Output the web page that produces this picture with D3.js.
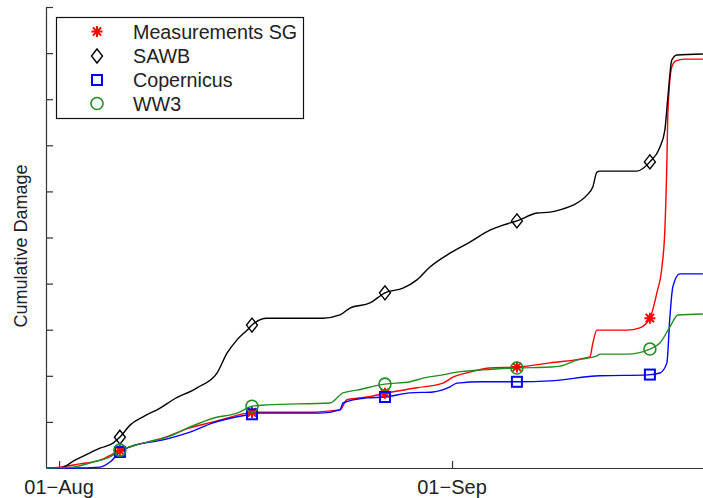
<!DOCTYPE html>
<html>
<head>
<meta charset="utf-8">
<script src="https://cdn.jsdelivr.net/npm/d3@7"></script>
<style>
  html, body { margin: 0; padding: 0; background: #fff; }
  svg { display: block; font-family: "Liberation Sans", Arial, sans-serif; }
</style>
</head>
<body>
<svg id="chart" width="703" height="498"></svg>
<script>
// Days since 01-Aug and cumulative damage (one unit per y tick).
const measDays = [-1.03, 0.08, 1.66, 3.23, 4.57, 5.60, 8.20, 10.33, 12.15, 14.83, 15.30, 20.19, 21.37, 22.16, 22.71, 24.29, 25.87, 28.23, 30.28, 31.07, 32.41, 33.99, 36.12, 38.72, 41.88, 42.11, 42.43, 44.79, 45.82, 46.61, 47.16, 47.56, 47.79, 47.95, 48.03, 48.34, 48.66, 49.37, 50.79];
const measVals = [0, 0.02, 0.09, 0.17, 0.35, 0.46, 0.65, 0.87, 1.00, 1.19, 1.21, 1.21, 1.24, 1.26, 1.48, 1.54, 1.63, 1.74, 1.84, 1.97, 2.08, 2.17, 2.19, 2.28, 2.41, 2.71, 2.99, 2.99, 3.04, 3.25, 3.80, 4.36, 5.16, 6.62, 7.70, 8.70, 8.83, 8.87, 8.87];

const sawbDays = [-1.03, 0.08, 1.26, 2.44, 3.23, 4.26, 4.81, 5.60, 6.62, 7.97, 8.99, 10.88, 12.46, 13.25, 14.04, 14.83, 15.22, 16.40, 20.82, 22.16, 22.95, 24.53, 25.71, 27.13, 28.23, 29.26, 30.84, 32.41, 33.99, 35.02, 36.12, 37.70, 38.72, 39.51, 40.54, 41.64, 42.11, 42.43, 42.67, 45.58, 46.61, 47.40, 47.79, 48.03, 48.34, 48.74, 50.79];
const sawbVals = [0, 0, 0.17, 0.33, 0.43, 0.54, 0.67, 0.93, 1.11, 1.30, 1.48, 1.74, 2.06, 2.49, 2.78, 2.99, 3.10, 3.25, 3.25, 3.32, 3.47, 3.58, 3.80, 3.90, 4.08, 4.36, 4.66, 4.90, 5.16, 5.27, 5.36, 5.53, 5.55, 5.60, 5.70, 5.92, 6.10, 6.42, 6.44, 6.44, 6.64, 6.96, 7.33, 8.05, 8.85, 8.96, 8.98];

const copDays = [-1.03, 1.10, 3.23, 4.02, 4.81, 5.60, 8.20, 10.33, 12.15, 14.83, 15.85, 20.58, 22.16, 22.40, 24.29, 25.71, 27.68, 29.50, 30.84, 31.39, 33.44, 36.12, 38.72, 42.67, 46.45, 47.40, 47.95, 48.19, 48.42, 48.97, 50.79];
const copVals = [0, 0, 0.02, 0.13, 0.35, 0.46, 0.61, 0.78, 0.98, 1.15, 1.19, 1.19, 1.26, 1.41, 1.52, 1.54, 1.63, 1.65, 1.76, 1.84, 1.87, 1.87, 1.89, 2.00, 2.02, 2.06, 2.28, 3.28, 3.93, 4.21, 4.21];

const ww3Days = [-1.03, 1.10, 2.68, 4.02, 4.81, 5.60, 6.94, 8.52, 10.33, 12.15, 14.04, 15.22, 16.40, 21.37, 22.40, 23.50, 25.71, 27.68, 28.71, 30.28, 31.39, 33.44, 36.12, 38.72, 39.51, 40.85, 42.43, 42.67, 44.79, 46.61, 47.40, 48.19, 48.82, 50.79];
const ww3Vals = [0, 0.02, 0.13, 0.24, 0.39, 0.46, 0.56, 0.67, 0.89, 1.08, 1.19, 1.34, 1.37, 1.41, 1.63, 1.69, 1.82, 1.87, 1.95, 2.02, 2.08, 2.13, 2.17, 2.19, 2.21, 2.34, 2.43, 2.47, 2.47, 2.58, 2.71, 3.06, 3.32, 3.34];

// Days at which each series carries a marker symbol
const markerDays = [4.8, 15.22, 25.71, 36.12, 46.61];

const seriesNames = ["Measurements SG", "SAWB", "Copernicus", "WW3"];
const xTickDays = [0, 31];
const xTickLabels = ["01\u2212Aug", "01\u2212Sep"];
const yTickValues = [1, 2, 3, 4, 5, 6, 7, 8, 9, 10];

const series = [
  { name: seriesNames[0], days: measDays, vals: measVals, color: "#ff0000", symbol: "star" },
  { name: seriesNames[1], days: sawbDays, vals: sawbVals, color: "#000000", symbol: "diamond" },
  { name: seriesNames[2], days: copDays, vals: copVals, color: "#0000ff", symbol: "square" },
  { name: seriesNames[3], days: ww3Days, vals: ww3Vals, color: "#1f8f1f", symbol: "circle" }
];

const svg = d3.select("#chart");
const x = d3.scaleLinear().domain([-1.03, 50.8]).range([46, 703]);
const y = d3.scaleLinear().domain([0, 10]).range([468, 7]);

// Axes: left and bottom only, ticks pointing inward
const yAxis = d3.axisRight(y).tickValues(yTickValues).tickSize(7).tickFormat("");
const yG = svg.append("g").attr("transform", `translate(${x.range()[0]},0)`).call(yAxis);
yG.select(".domain").attr("d", `M0.5,${y(0)}V${y(10)}`);

const xAxis = d3.axisTop(x).tickValues(xTickDays).tickSize(7).tickFormat("");
const xG = svg.append("g").attr("transform", `translate(0,${y(0)})`).call(xAxis);
xG.select(".domain").attr("d", `M${x.range()[0]},0.5H703`);
[yG, xG].forEach(g => {
  g.selectAll("path.domain").attr("stroke", "#333").attr("stroke-width", 1.2);
  g.selectAll(".tick line").attr("stroke", "#333").attr("stroke-width", 1.2);
});

svg.append("g").selectAll("text").data(xTickDays).join("text")
  .attr("x", d => x(d)).attr("y", 494)
  .attr("text-anchor", "middle").attr("font-size", 20).attr("fill", "#222")
  .text((d, i) => xTickLabels[i]);

svg.append("text")
  .attr("transform", "translate(27,246) rotate(-90)")
  .attr("text-anchor", "middle").attr("font-size", 18).attr("fill", "#222")
  .text("Cumulative Damage");

// Curves
const line = d3.line().x(d => x(d[0])).y(d => y(d[1])).curve(d3.curveMonotoneX);
const plot = svg.append("g");
series.forEach(s => {
  const pts = s.days.map((d, i) => [d, s.vals[i]]);
  plot.append("path").datum(pts)
    .attr("d", line).attr("fill", "none")
    .attr("stroke", s.color).attr("stroke-width", 1.4)
    .attr("stroke-linejoin", "round");
});

function valueAt(s, day) {
  const i = d3.bisectLeft(s.days, day);
  if (i <= 0) return s.vals[0];
  if (i >= s.days.length) return s.vals[s.vals.length - 1];
  const t = (day - s.days[i - 1]) / (s.days[i] - s.days[i - 1]);
  return s.vals[i - 1] + t * (s.vals[i] - s.vals[i - 1]);
}

function drawSymbol(g, type, cx, cy, color) {
  if (type === "star") {
    const r = 5.5, rr = r * 0.75;
    const p = `M${cx - r},${cy}H${cx + r}M${cx},${cy - r}V${cy + r}` +
      `M${cx - rr},${cy - rr}L${cx + rr},${cy + rr}M${cx - rr},${cy + rr}L${cx + rr},${cy - rr}`;
    g.append("path").attr("d", p).attr("stroke", color).attr("stroke-width", 2).attr("fill", "none");
  } else if (type === "diamond") {
    const w = 5.5, h = 7;
    g.append("path").attr("d", `M${cx},${cy - h}L${cx + w},${cy}L${cx},${cy + h}L${cx - w},${cy}Z`)
      .attr("stroke", color).attr("stroke-width", 1.4).attr("fill", "none");
  } else if (type === "square") {
    const a = 5;
    g.append("rect").attr("x", cx - a).attr("y", cy - a).attr("width", 2 * a).attr("height", 2 * a)
      .attr("stroke", color).attr("stroke-width", 2).attr("fill", "none");
  } else {
    g.append("circle").attr("cx", cx).attr("cy", cy).attr("r", 6)
      .attr("stroke", color).attr("stroke-width", 1.6).attr("fill", "none");
  }
}

const markG = svg.append("g");
series.forEach(s => {
  markerDays.forEach(d => drawSymbol(markG, s.symbol, x(d), y(valueAt(s, d)), s.color));
});

// Legend
const lg = svg.append("g");
lg.append("rect").attr("x", 56.5).attr("y", 17.5).attr("width", 247).attr("height", 101)
  .attr("fill", "#fff").attr("stroke", "#111").attr("stroke-width", 1.2);
const rowY = [31.5, 56, 80, 103.5];
series.forEach((s, i) => {
  drawSymbol(lg, s.symbol, 97, rowY[i], s.color);
  lg.append("text").attr("x", 133).attr("y", rowY[i] + 7)
    .attr("font-size", 19.7).attr("fill", "#222").text(s.name);
});
</script>
</body>
</html>
